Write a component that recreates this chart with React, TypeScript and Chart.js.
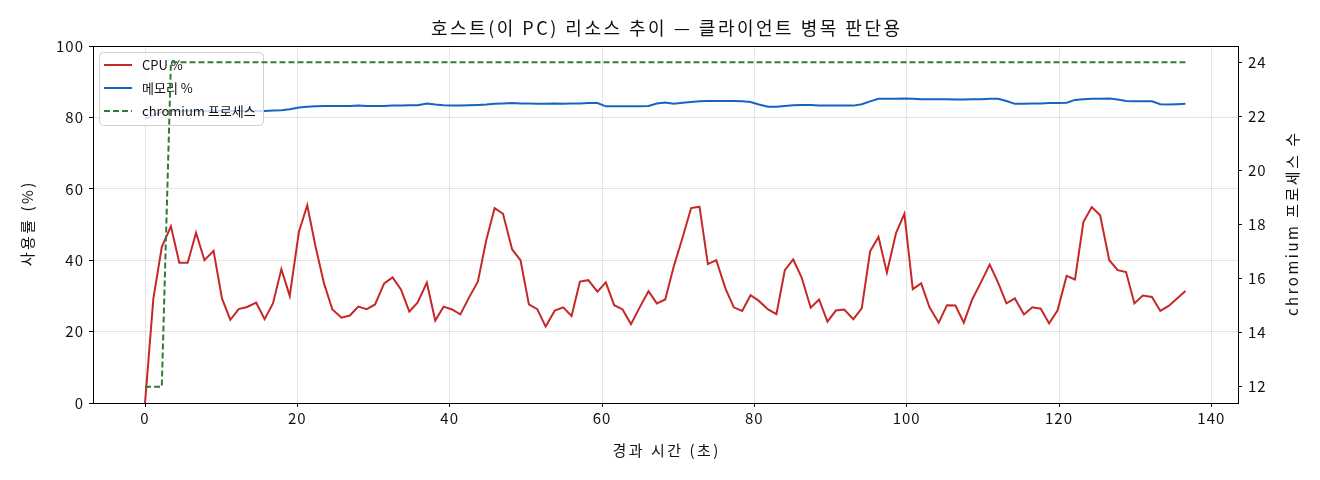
import { useEffect, useRef } from "react"
import { Chart, registerables } from "chart.js"
import type { Plugin } from "chart.js"

Chart.register(...registerables)

const FONT = '"Noto Sans CJK KR", "Noto Sans", sans-serif'

const TITLE = "호스트(이 PC) 리소스 추이 — 클라이언트 병목 판단용"
const X_TITLE = "경과 시간 (초)"
const Y_TITLE = "사용률 (%)"
const Y1_TITLE = "chromium 프로세스 수"

// elapsed seconds of each sample
const TIMES = [
  0, 1.1, 2.2, 3.4, 4.5, 5.6, 6.7, 7.8, 9.0, 10.1,
  11.2, 12.3, 13.4, 14.6, 15.7, 16.8, 17.9, 19.0, 20.2, 21.3,
  22.4, 23.5, 24.6, 25.8, 26.9, 28.0, 29.1, 30.2, 31.4, 32.5,
  33.6, 34.7, 35.8, 37.0, 38.1, 39.2, 40.3, 41.4, 42.6, 43.7,
  44.8, 45.9, 47.0, 48.2, 49.3, 50.4, 51.5, 52.6, 53.8, 54.9,
  56.0, 57.1, 58.2, 59.4, 60.5, 61.6, 62.7, 63.8, 65.0, 66.1,
  67.2, 68.3, 69.4, 70.6, 71.7, 72.8, 73.9, 75.0, 76.2, 77.3,
  78.4, 79.5, 80.6, 81.8, 82.9, 84.0, 85.1, 86.2, 87.4, 88.5,
  89.6, 90.7, 91.8, 93.0, 94.1, 95.2, 96.3, 97.4, 98.6, 99.7,
  100.8, 101.9, 103.0, 104.2, 105.3, 106.4, 107.5, 108.6, 109.8, 110.9,
  112.0, 113.1, 114.2, 115.4, 116.5, 117.6, 118.7, 119.8, 121.0, 122.1,
  123.2, 124.3, 125.4, 126.6, 127.7, 128.8, 129.9, 131.0, 132.2, 133.3,
  134.4, 135.5, 136.6,
]

const CPU = [
  0, 29.3, 43.7, 49.5, 39.3, 39.3, 47.7, 40, 42.6, 29.3,
  23.3, 26.3, 26.9, 28.1, 23.5, 27.9, 37.5, 30, 47.9, 55.4,
  43.7, 33.5, 26.2, 23.9, 24.5, 27, 26.3, 27.6, 33.5, 35.2,
  31.8, 25.6, 28.2, 33.7, 23.1, 27, 26.2, 24.8, 29.8, 34,
  45.6, 54.6, 53, 43, 40, 27.6, 26.3, 21.4, 25.9, 26.8,
  24.4, 34, 34.4, 31.2, 33.8, 27.4, 26.2, 22.1, 27, 31.3,
  27.9, 29, 38.1, 46.5, 54.6, 55, 38.9, 40, 32.1, 26.8,
  25.8, 30.2, 28.6, 26.2, 24.9, 37.2, 40.2, 35.2, 26.7, 29,
  22.8, 25.9, 26.2, 23.5, 26.5, 42.5, 46.5, 36.5, 47.6, 53,
  31.9, 33.5, 26.8, 22.5, 27.4, 27.3, 22.5, 29, 34, 38.8,
  33.7, 27.9, 29.3, 24.8, 26.8, 26.4, 22.3, 25.9, 35.6, 34.6,
  50.7, 54.9, 52.6, 40, 37.2, 36.7, 27.9, 30.1, 29.7, 25.8,
  27.2, 29.3, 31.4,
]

const MEM = [
  79.6, 80.5, 81.5, 81.8, 81.8, 81.8, 81.8, 81.8, 81.8, 81.8,
  81.8, 81.8, 81.8, 81.8, 81.8, 81.9, 82.0, 82.3, 82.8, 83.0,
  83.1, 83.2, 83.2, 83.2, 83.2, 83.3, 83.2, 83.2, 83.2, 83.3,
  83.3, 83.4, 83.4, 83.9, 83.6, 83.4, 83.3, 83.3, 83.4, 83.5,
  83.6, 83.8, 83.9, 84.0, 83.9, 83.9, 83.8, 83.8, 83.9, 83.8,
  83.9, 83.9, 84.0, 84.0, 83.1, 83.1, 83.1, 83.1, 83.1, 83.2,
  83.9, 84.2, 83.8, 84.1, 84.3, 84.5, 84.6, 84.6, 84.6, 84.6,
  84.5, 84.3, 83.6, 83.0, 83.0, 83.2, 83.4, 83.5, 83.5, 83.3,
  83.3, 83.3, 83.3, 83.3, 83.7, 84.5, 85.2, 85.2, 85.2, 85.3,
  85.2, 85.1, 85.1, 85.1, 85.1, 85.0, 85.0, 85.1, 85.1, 85.2,
  85.2, 84.6, 83.8, 83.8, 83.9, 83.9, 84.0, 84.0, 84.1, 84.9,
  85.1, 85.2, 85.2, 85.3, 85.0, 84.6, 84.5, 84.5, 84.5, 83.7,
  83.6, 83.7, 83.8,
]

const PROCS = [
  12, 12, 12, 24, 24, 24, 24, 24, 24, 24,
  24, 24, 24, 24, 24, 24, 24, 24, 24, 24,
  24, 24, 24, 24, 24, 24, 24, 24, 24, 24,
  24, 24, 24, 24, 24, 24, 24, 24, 24, 24,
  24, 24, 24, 24, 24, 24, 24, 24, 24, 24,
  24, 24, 24, 24, 24, 24, 24, 24, 24, 24,
  24, 24, 24, 24, 24, 24, 24, 24, 24, 24,
  24, 24, 24, 24, 24, 24, 24, 24, 24, 24,
  24, 24, 24, 24, 24, 24, 24, 24, 24, 24,
  24, 24, 24, 24, 24, 24, 24, 24, 24, 24,
  24, 24, 24, 24, 24, 24, 24, 24, 24, 24,
  24, 24, 24, 24, 24, 24, 24, 24, 24, 24,
  24, 24, 24,
]

const X_TICKS = [0, 20, 40, 60, 80, 100, 120, 140]
const Y_TICKS = [0, 20, 40, 60, 80, 100]
const PROC_TICKS = [12, 14, 16, 18, 20, 22, 24]

// order: lower is drawn later (on top) — the twin-axis line sits above the legend
const SERIES = [
  { label: "CPU %", values: CPU, color: "#c62828", dash: [] as number[], axis: "y", order: 1 },
  { label: "메모리 %", values: MEM, color: "#1565c0", dash: [] as number[], axis: "y", order: 2 },
  { label: "chromium 프로세스", values: PROCS, color: "#2e7d32", dash: [6, 3], axis: "y1", order: 0 },
]

type Ctx = CanvasRenderingContext2D & { letterSpacing?: string }

function text(ctx: Ctx, str: string, x: number, y: number, size: number, spacing: number, rot = 0) {
  ctx.save()
  ctx.font = `${size}px ${FONT}`
  ctx.letterSpacing = `${spacing}px`
  ctx.fillStyle = "#111"
  ctx.textAlign = "center"
  ctx.textBaseline = "middle"
  ctx.translate(x, y)
  ctx.rotate(rot)
  // trailing letter spacing would push centred text left
  ctx.fillText(str, spacing / 2, 0)
  ctx.restore()
}

// matplotlib-ish look: wider text, frame, titles and an in-axes legend
const decor: Plugin<"line"> = {
  id: "decor",
  beforeDraw(chart) {
    ;(chart.ctx as Ctx).letterSpacing = "1px"
  },
  beforeDatasetDraw(chart, args) {
    if (args.meta.yAxisID !== "y1") return
    const ctx = chart.ctx as Ctx
    ctx.save()
    const bx = 99, by = 52, bw = 164, bh = 73
    ctx.beginPath()
    ctx.roundRect(bx + 0.5, by + 0.5, bw, bh, 4)
    ctx.fillStyle = "rgba(255,255,255,0.8)"
    ctx.fill()
    ctx.strokeStyle = "#d0d0d0"
    ctx.lineWidth = 1
    ctx.stroke()

    ctx.font = `13px ${FONT}`
    ctx.letterSpacing = "0px"
    ctx.textAlign = "left"
    ctx.textBaseline = "middle"
    SERIES.forEach((s, i) => {
      const y = 65 + i * 23
      ctx.beginPath()
      ctx.setLineDash(s.dash)
      ctx.strokeStyle = s.color
      ctx.lineWidth = 2
      ctx.moveTo(104, y)
      ctx.lineTo(132, y)
      ctx.stroke()
      ctx.setLineDash([])
      ctx.fillStyle = "#111"
      ctx.fillText(s.label, 142, y)
    })
    ctx.restore()
  },
  afterDraw(chart) {
    const ctx = chart.ctx as Ctx
    const a = chart.chartArea
    ctx.save()
    ctx.strokeStyle = "#000"
    ctx.lineWidth = 1
    ctx.setLineDash([])
    ctx.strokeRect(a.left + 0.5, a.top + 0.5, a.right - a.left, a.bottom - a.top)
    ctx.restore()

    const midX = (a.left + a.right) / 2
    const midY = (a.top + a.bottom) / 2
    text(ctx, TITLE, midX, 28, 18, 2.5)
    text(ctx, X_TITLE, midX, 450, 15, 2.5)
    text(ctx, Y_TITLE, 27, midY, 15, 2.5, -Math.PI / 2)
    text(ctx, Y1_TITLE, 1292, midY, 15, 2.5, -Math.PI / 2)
  },
}

export default function App() {
  const canvasRef = useRef<HTMLCanvasElement>(null)

  useEffect(() => {
    document.body.style.margin = "0"
    const canvas = canvasRef.current
    if (!canvas) return

    const grid = { color: "rgba(0,0,0,0.1)", tickColor: "#000", tickLength: 4 }
    const tickFont = { family: FONT, size: 15 }

    const chart = new Chart(canvas, {
      type: "line",
      data: {
        datasets: SERIES.map((s) => ({
          label: s.label,
          data: s.values.map((v, i) => ({ x: TIMES[i], y: v })),
          yAxisID: s.axis,
          order: s.order,
          borderColor: s.color,
          backgroundColor: s.color,
          borderWidth: 2,
          borderDash: s.dash,
          pointRadius: 0,
          tension: 0,
          fill: false,
        })),
      },
      options: {
        animation: false,
        responsive: true,
        maintainAspectRatio: false,
        layout: { padding: { top: 46 } },
        plugins: {
          legend: { display: false },
          tooltip: { enabled: false },
        },
        scales: {
          x: {
            type: "linear",
            min: -6.83,
            max: 143.5,
            afterBuildTicks: (s) => { s.ticks = X_TICKS.map((value) => ({ value })) },
            afterFit: (s) => { s.height = 77 },
            border: { display: false },
            grid,
            ticks: { color: "#111", font: tickFont, padding: 2, maxRotation: 0, autoSkip: false },
          },
          y: {
            position: "left",
            min: 0,
            max: 100,
            afterBuildTicks: (s) => { s.ticks = Y_TICKS.map((value) => ({ value })) },
            afterFit: (s) => { s.width = 93 },
            border: { display: false },
            grid,
            ticks: { color: "#111", font: tickFont, padding: 5 },
          },
          y1: {
            position: "right",
            min: 11.4,
            max: 24.6,
            afterBuildTicks: (s) => { s.ticks = PROC_TICKS.map((value) => ({ value })) },
            afterFit: (s) => { s.width = 82 },
            border: { display: false },
            grid: { ...grid, drawOnChartArea: false },
            ticks: { color: "#111", font: tickFont, padding: 6 },
          },
        },
      },
      plugins: [decor],
    })

    return () => chart.destroy()
  }, [])

  return (
    <div style={{ position: "relative", width: 1320, height: 480, background: "#fff" }}>
      <canvas ref={canvasRef} />
    </div>
  )
}
